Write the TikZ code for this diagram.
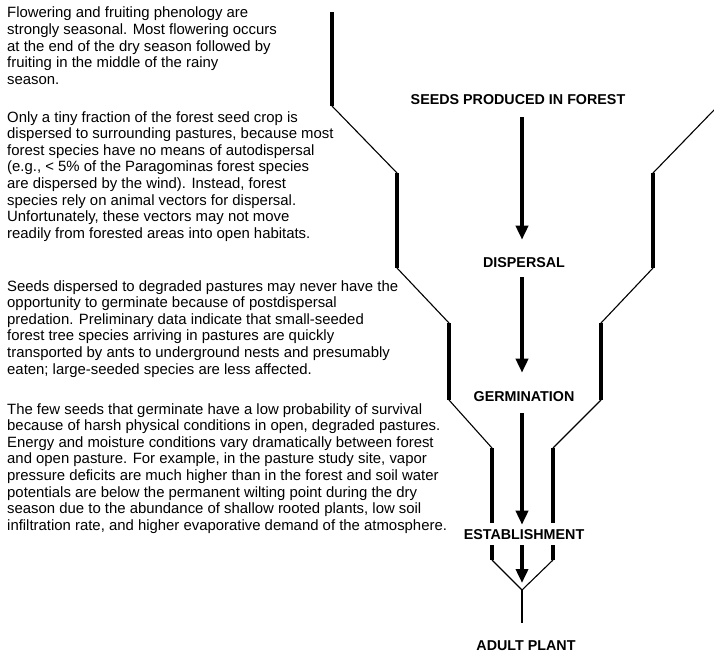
\documentclass[tikz,border=0pt]{standalone}
\usepackage{fontspec}
\setmainfont{Liberation Sans}
\usetikzlibrary{arrows.meta}
\tikzset{
  wall/.style={line width=3.6pt},
  slope/.style={line width=1.1pt},
  flow/.style={line width=3.6pt,-{Triangle[length=14pt,width=12pt]}},
  stage/.style={font=\fontsize{14.3}{16}\selectfont\bfseries, inner sep=0pt},
  note/.style={font=\fontsize{14.9}{16.6}\selectfont, align=left, anchor=north west, inner sep=0pt},
}

\begin{document}
\begin{tikzpicture}[x=1pt,y=-1pt]
        \useasboundingbox (0,0) rectangle (714,656);
        % notes on the left
        \node[note] (phenology) at (7,7) {Flowering and fruiting phenology are\\
            strongly seasonal.  Most flowering occurs\\
            at the end of the dry season followed by\\
            fruiting in the middle of the rainy\\
            season.};
        \node[note] (vectors) at (7,111) {Only a tiny fraction of the forest seed crop is\\
            dispersed to surrounding pastures, because most\\
            forest species have no means of autodispersal\\
            (e.g., < 5\% of the Paragominas forest species\\
            are dispersed by the wind).  Instead, forest\\
            species rely on animal vectors for dispersal.\\
            Unfortunately, these vectors may not move\\
            readily from forested areas into open habitats.};
        \node[note] (predation) at (7,280) {Seeds dispersed to degraded pastures may never have the\\
            opportunity to germinate because of postdispersal\\
            predation.  Preliminary data indicate that small-seeded\\
            forest tree species arriving in pastures are quickly\\
            transported by ants to underground nests and presumably\\
            eaten; large-seeded species are less affected.};
        \node[note] (survival) at (7,403) {The few seeds that germinate have a low probability of survival\\
            because of harsh physical conditions in open, degraded pastures.\\
            Energy and moisture conditions vary dramatically between forest\\
            and open pasture.  For example, in the pasture study site, vapor\\
            pressure deficits are much higher than in the forest and soil water\\
            potentials are below the permanent wilting point during the dry\\
            season due to the abundance of shallow rooted plants, low soil\\
            infiltration rate, and higher evaporative demand of the atmosphere.};
        % funnel walls
        \draw[wall] (332,12) -- (332,106);
        \foreach \xl/\xr/\ya/\yb in {397/653/173/268, 449/601/323/400, 492/553/448/523, 492/553/545/560}{
            \draw[wall] (\xl,\ya) -- (\xl,\yb);
            \draw[wall] (\xr,\ya) -- (\xr,\yb);
        }
        \draw[slope] (332,106) -- (397,173);
        \draw[slope] (714,110) -- (653,173);
        \foreach \xl/\xm/\xr/\xs/\ya/\yb in {397/449/653/601/268/323, 449/492/601/553/400/448, 492/522/553/522/560/590}{
            \draw[slope] (\xl,\ya) -- (\xm,\yb);
            \draw[slope] (\xr,\ya) -- (\xs,\yb);
        }
        \draw[slope] (522,590) -- (522,623);
        % stages
        \node[stage] (seeds) at (518,100) {SEEDS PRODUCED IN FOREST};
        \node[stage] (dispersal) at (524,263) {DISPERSAL};
        \node[stage] (germination) at (524,397) {GERMINATION};
        \node[stage] (establishment) at (524,535) {ESTABLISHMENT};
        \node[stage] (adult) at (526,646) {ADULT PLANT};
        \coordinate (tip) at (522,583);
        \draw[flow, shorten <=12pt, shorten >=18pt] (seeds.south -| 522,0) -- (dispersal.north -| 522,0);
        \draw[flow, shorten <=9pt, shorten >=19pt] (dispersal.south -| 522,0) -- (germination.north -| 522,0);
        \draw[flow, shorten <=11pt, shorten >=5pt] (germination.south -| 522,0) -- (establishment.north -| 522,0);
        \draw[flow, shorten <=5pt] (establishment.south -| tip) -- (tip);
    \end{tikzpicture}
\end{document}
